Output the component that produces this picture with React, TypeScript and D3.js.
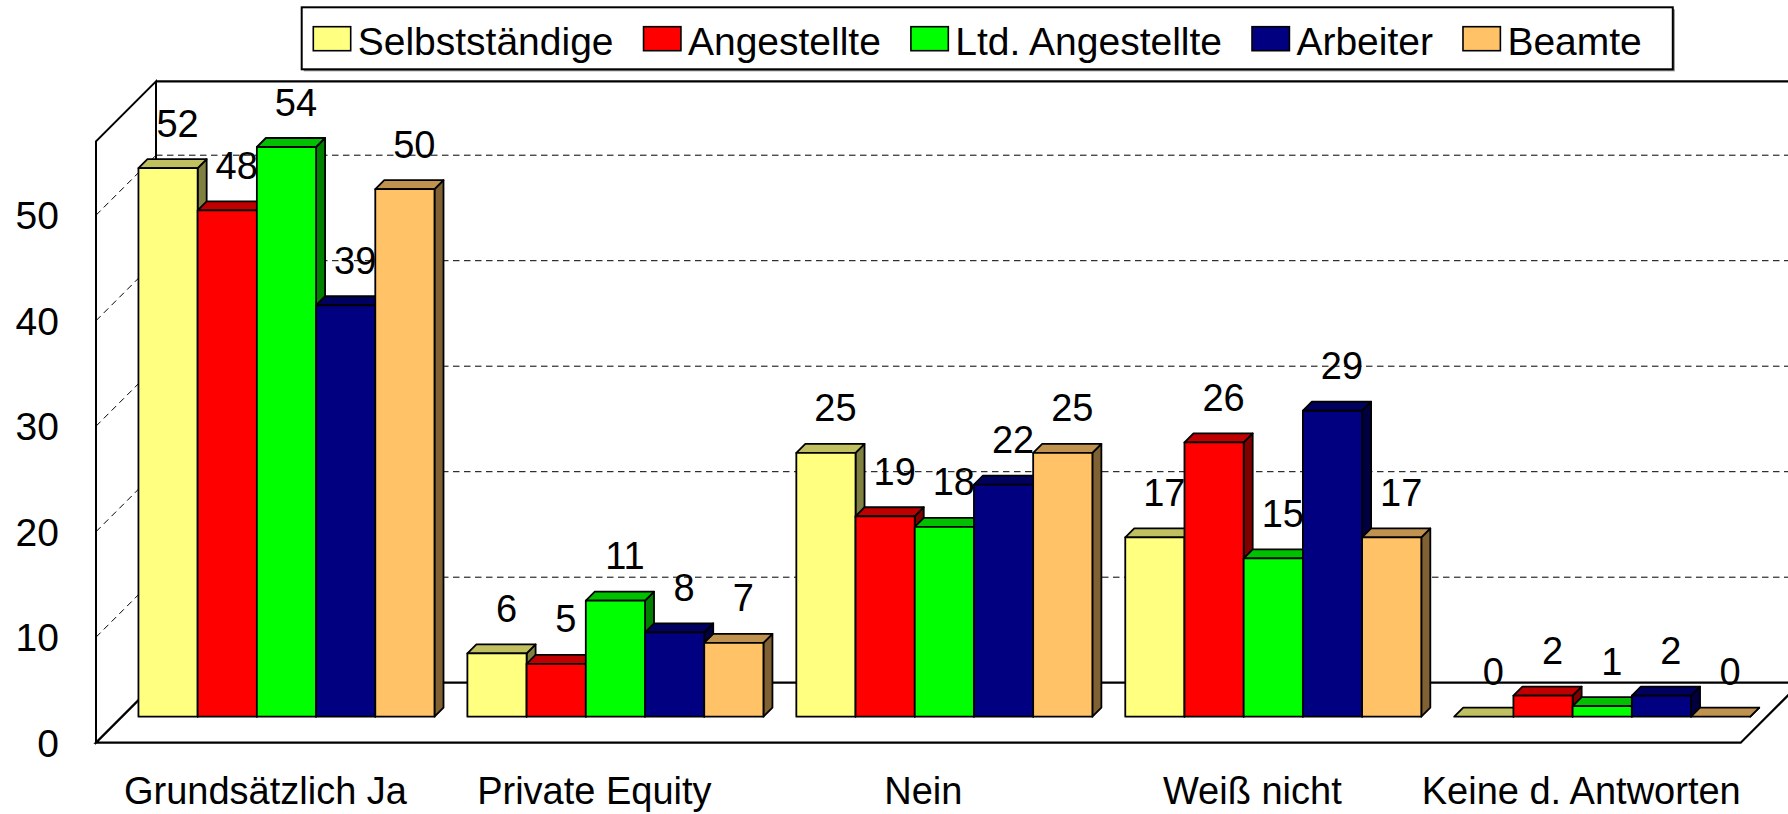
import React from 'react';
import { select, scaleLinear, scaleBand } from 'd3';

const categories = ['Grundsätzlich Ja', 'Private Equity', 'Nein', 'Weiß nicht', 'Keine d. Antworten'];
const seriesNames = ['Selbstständige', 'Angestellte', 'Ltd. Angestellte', 'Arbeiter', 'Beamte'];
const selbststaendige = [52, 6, 25, 17, 0];
const angestellte = [48, 5, 19, 26, 2];
const ltdAngestellte = [54, 11, 18, 15, 1];
const arbeiter = [39, 8, 22, 29, 2];
const beamte = [50, 7, 25, 17, 0];
const yTicks = [0, 10, 20, 30, 40, 50];

const seriesValues = [selbststaendige, angestellte, ltdAngestellte, arbeiter, beamte];
const shades = [
  { front: '#FFFF80', top: '#C0C060', side: '#808040' },
  { front: '#FF0000', top: '#C00000', side: '#800000' },
  { front: '#00FF00', top: '#00C000', side: '#008000' },
  { front: '#000080', top: '#000060', side: '#000040' },
  { front: '#FFC266', top: '#C09250', side: '#806133' },
];

const W = 1788;
const H = 814;
const FONT = "'Liberation Sans', Arial, sans-serif";

export default function App() {
  const svgRef = React.useRef<SVGSVGElement>(null);

  React.useEffect(() => {
    const svg = select(svgRef.current);
    svg.selectAll('*').remove();

    // 3D frame
    const x0 = 96;
    const x1 = 1740.7;
    const D = 60; // wall depth
    const barZ = 26; // depth of bars' front face
    const bd = 9; // bar depth
    const yMax = 57;

    const y = scaleLinear().domain([0, yMax]).range([742.7, 742.7 - yMax * 10.55]);
    const xCat = scaleBand<string>().domain(categories).range([x0, x1]).paddingInner(0.1).paddingOuter(0.05);
    const xSer = scaleBand<string>().domain(seriesNames).range([0, xCat.bandwidth()]);

    const pts = (p: number[][]) => p.map(d => d.join(',')).join(' ');

    // left wall
    svg.append('polygon')
      .attr('points', pts([[x0, y(0)], [x0, y(yMax)], [x0 + D, y(yMax) - D], [x0 + D, y(0) - D]]))
      .attr('fill', '#fff').attr('stroke', '#000').attr('stroke-width', 2);
    // back wall top edge
    svg.append('line')
      .attr('x1', x0 + D).attr('x2', W + 20).attr('y1', y(yMax) - D).attr('y2', y(yMax) - D)
      .attr('stroke', '#000').attr('stroke-width', 2.2);

    // gridlines
    yTicks.filter(t => t > 0).forEach(t => {
      svg.append('line')
        .attr('x1', x0 + D).attr('x2', W + 20).attr('y1', y(t) - D).attr('y2', y(t) - D)
        .attr('stroke', '#000').attr('stroke-width', 1).attr('stroke-dasharray', '6.5 4.5');
      svg.append('line')
        .attr('x1', x0).attr('x2', x0 + D).attr('y1', y(t)).attr('y2', y(t) - D)
        .attr('stroke', '#000').attr('stroke-width', 1).attr('stroke-dasharray', '6.5 4.5');
    });

    // floor
    svg.append('polygon')
      .attr('points', pts([[x0, y(0)], [x1, y(0)], [x1 + D, y(0) - D], [x0 + D, y(0) - D]]))
      .attr('fill', '#fff').attr('stroke', '#000').attr('stroke-width', 2.2);
    svg.append('line')
      .attr('x1', x0 + D).attr('x2', x0 + D).attr('y1', y(yMax) - D).attr('y2', y(0) - D)
      .attr('stroke', '#000').attr('stroke-width', 2);

    // y tick labels
    svg.append('g').selectAll('text').data(yTicks).join('text')
      .attr('x', 59).attr('y', d => y(d) + 14)
      .attr('text-anchor', 'end')
      .attr('font-family', FONT).attr('font-size', 39).attr('fill', '#000')
      .text(d => d);

    // bars
    const bars = svg.append('g');
    const labels: { x: number; y: number; v: number }[] = [];
    categories.forEach((c, ci) => {
      seriesNames.forEach((s, si) => {
        const v = seriesValues[si][ci];
        const bx = (xCat(c) ?? 0) + (xSer(s) ?? 0) + barZ;
        const bw = xSer.bandwidth();
        const base = y(0) - barZ;
        const top = y(v) - barZ;
        const col = shades[si];
        const g = bars.append('g')
          .attr('stroke', '#000').attr('stroke-width', 1.8).attr('stroke-linejoin', 'round');
        g.append('polygon')
          .attr('points', pts([[bx + bw, top], [bx + bw + bd, top - bd], [bx + bw + bd, base - bd], [bx + bw, base]]))
          .attr('fill', col.side);
        g.append('polygon')
          .attr('points', pts([[bx, top], [bx + bd, top - bd], [bx + bw + bd, top - bd], [bx + bw, top]]))
          .attr('fill', col.top);
        g.append('rect')
          .attr('x', bx).attr('y', top).attr('width', bw).attr('height', base - top)
          .attr('fill', col.front);
        labels.push({ x: bx + bw / 2 + 9.5, y: top - 31.5, v });
      });
    });

    // data labels
    svg.append('g').selectAll('text').data(labels).join('text')
      .attr('x', d => d.x).attr('y', d => d.y)
      .attr('text-anchor', 'middle')
      .attr('font-family', FONT).attr('font-size', 38).attr('fill', '#000')
      .text(d => d.v);

    // category labels
    svg.append('g').selectAll('text').data(categories).join('text')
      .attr('x', d => (xCat(d) ?? 0) + xCat.bandwidth() / 2 + 5)
      .attr('y', 804)
      .attr('text-anchor', 'middle')
      .attr('font-family', FONT).attr('font-size', 38).attr('fill', '#000')
      .text(d => d);

    // legend
    const lg = svg.append('g');
    const shadow = lg.append('rect');
    const box = lg.append('rect');
    let cx = 313.3;
    seriesNames.forEach((name, i) => {
      lg.append('rect')
        .attr('x', cx).attr('y', 26.7).attr('width', 37.4).attr('height', 24)
        .attr('fill', shades[i].front).attr('stroke', '#000').attr('stroke-width', 1.6);
      const t = lg.append('text')
        .attr('x', cx + 44.4).attr('y', 55)
        .attr('font-family', FONT).attr('font-size', 39).attr('fill', '#000')
        .text(name);
      const len = (t.node() as SVGTextElement).getComputedTextLength();
      cx = cx + 44.4 + len + (i < seriesNames.length - 1 ? 30 : 31);
    });
    const bl = 301.7;
    box.attr('x', bl).attr('y', 7.3).attr('width', cx - bl).attr('height', 62)
      .attr('fill', '#fff').attr('stroke', '#000').attr('stroke-width', 2);
    shadow.attr('x', bl + 2).attr('y', 9.3).attr('width', cx - bl).attr('height', 62)
      .attr('fill', '#888');
  }, []);

  return (
    <svg
      ref={svgRef}
      width={W}
      height={H}
      style={{ position: 'absolute', left: 0, top: 0, background: '#fff' }}
    />
  );
}
